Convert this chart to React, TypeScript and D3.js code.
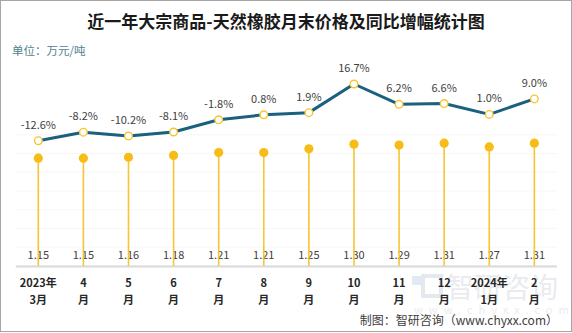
import React from "react";
import * as d3 from "d3";

const categories = ["2023年\n3月", "4\n月", "5\n月", "6\n月", "7\n月", "8\n月", "9\n月", "10\n月", "11\n月", "12\n月", "2024年\n1月", "2\n月"];
const prices = [1.15, 1.15, 1.16, 1.18, 1.21, 1.21, 1.25, 1.30, 1.29, 1.31, 1.27, 1.31];
const yoy = [-12.6, -8.2, -10.2, -8.1, -1.8, 0.8, 1.9, 16.7, 6.2, 6.6, 1.0, 9.0];
const priceTicks = [0, 0.2, 0.4, 0.6, 0.8, 1.0, 1.2, 1.4];

const W = 572;
const H = 333;
const font = "'Microsoft YaHei', 'Noto Sans CJK SC', sans-serif";

export default function App() {
  const x = d3.scaleBand<string>().domain(categories).range([15.75, 556.9]);
  const yP = d3.scaleLinear().domain([0, 1.4]).range([266, 134.75]);
  const yL = d3.scaleLinear().domain([-12.6, 16.7]).range([140.7, 84]);
  const cx = (i: number) => (x(categories[i]) as number) + x.bandwidth() / 2;
  const line = d3.line<number>().x((_, i) => cx(i)).y((d) => yL(d));

  return (
    <svg width={W} height={H} style={{ position: "absolute", left: 0, top: 0, background: "#fff" }} fontFamily={font}>
      <rect x={0.5} y={0.5} width={W - 1} height={H - 2} fill="#fff" stroke="#a6a6a6" />
      <text x={286} y={28} textAnchor="middle" fontSize={17} fontWeight="bold" fill="#1a1a1a">
        近一年大宗商品-天然橡胶月末价格及同比增幅统计图
      </text>
      <text x={12} y={55} fontSize={11.5} fill="#4f7f8f">单位：万元/吨</text>

      {/* watermark */}
      <g opacity={0.5}>
        <rect x={412} y={276} width={9} height={9} fill="#c9d4e2" />
        <rect x={423} y={276} width={18} height={20} fill="none" stroke="#c9d4e2" strokeWidth={4} />
        <text x={446} y={298} fontSize={28} fill="#d4d9df" fontFamily="'Noto Sans CJK SC', sans-serif">智研咨询</text>
        <text x={414} y={314} fontSize={11} fill="#d4d9df" letterSpacing={6}>www.chyxx.com</text>
      </g>

      {priceTicks.map((t) => (
        <line key={t} x1={15.75} x2={556.9} y1={yP(t)} y2={yP(t)} stroke="#f7f7f7" strokeWidth={1} />
      ))}

      {prices.map((p, i) => (
        <text key={"pl" + i} x={cx(i)} y={259} textAnchor="middle" fontSize={11} fill="#404040">
          {p.toFixed(2)}
        </text>
      ))}
      {prices.map((p, i) => (
        <g key={"p" + i}>
          <line x1={cx(i)} x2={cx(i)} y1={yP(0)} y2={yP(p)} stroke="#f7c531" strokeWidth={1.6} />
          <circle cx={cx(i)} cy={yP(p)} r={4.6} fill="#f7bd16" />
        </g>
      ))}
      <line x1={15.75} x2={556.9} y1={266.5} y2={266.5} stroke="#d9d9d9" strokeWidth={2} />

      <path d={line(yoy) || ""} fill="none" stroke="#19617f" strokeWidth={3} strokeLinejoin="round" />
      {yoy.map((v, i) => (
        <g key={"l" + i}>
          <circle cx={cx(i)} cy={yL(v)} r={3.8} fill="#fff" stroke="#f7c531" strokeWidth={1.4} />
          <text x={cx(i)} y={yL(v) - 12} textAnchor="middle" fontSize={11} fill="#404040">
            {v.toFixed(1) + "%"}
          </text>
        </g>
      ))}

      {categories.map((c, i) => {
        const parts = c.split("\n");
        return (
          <text key={"c" + i} x={cx(i)} textAnchor="middle" fontSize={11} fontWeight="bold" fill="#262626">
            <tspan x={cx(i)} y={287}>{parts[0]}</tspan>
            <tspan x={cx(i)} y={304}>{parts[1]}</tspan>
          </text>
        );
      })}

      <text x={558} y={325} textAnchor="end" fontSize={12} fill="#404040">制图：智研咨询（www.chyxx.com）</text>
    </svg>
  );
}
